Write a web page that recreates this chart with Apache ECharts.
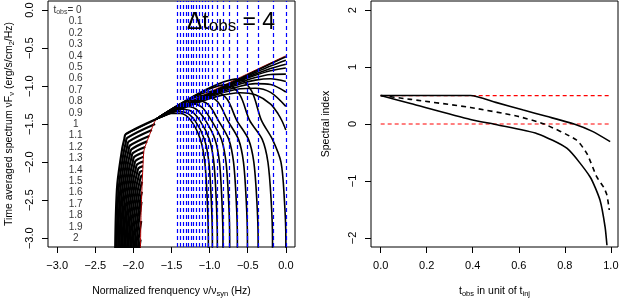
<!DOCTYPE html>
<html><head><meta charset="utf-8">
<script src="https://cdn.jsdelivr.net/npm/echarts@6.0.0/dist/echarts.min.js"></script>
<style>html,body{margin:0;padding:0;background:#fff}#c{width:619px;height:298px}</style>
</head><body><div id="c"></div>
<script>
// ---------- data ----------
const xTicksLeft = [-3, -2.5, -2, -1.5, -1, -0.5, 0];
const yTicksLeft = [-3, -2.5, -2, -1.5, -1, -0.5, 0];
const xTicksRight = [0, 0.2, 0.4, 0.6, 0.8, 1.0];
const yTicksRight = [-2, -1, 0, 1, 2];
const tObsLabels = ['0','0.1','0.2','0.3','0.4','0.5','0.6','0.7','0.8','0.9','1','1.1','1.2','1.3','1.4','1.5','1.6','1.7','1.8','1.9','2'];
// blue dashed cutoff frequencies (log10 nu/nu_syn)
const cutoffLines = [-1.417,-1.382,-1.346,-1.312,-1.276,-1.241,-1.207,-1.171,-1.136,-1.101,-1.062,-1.017,-0.964,-0.899,-0.825,-0.737,-0.636,-0.504,-0.364,-0.175,0];
// red envelope
const redEnvelope = [[-1.91,-3.3],[-1.90,-2.7],[-1.885,-2.28],[-1.872,-2.0],[-1.86,-1.84],[-1.78,-1.62],[-1.69,-1.428],[0,-0.6]];
// top spectrum (power law)
const topCurve = [[-2.1,-1.63],[-1.0,-1.092],[-0.5,-0.85],[-0.2,-0.705],[0,-0.613]];
// spectra ending at the right edge
const endCurves = [
 [[-1.7,-1.433],[-1.2,-1.191],[-0.9,-1.049],[-0.6,-0.909],[-0.4,-0.82],[-0.2,-0.735],[0,-0.66]],
 [[-1.7,-1.433],[-1.2,-1.195],[-0.9,-1.055],[-0.6,-0.92],[-0.4,-0.84],[-0.2,-0.768],[0,-0.713]],
 [[-1.7,-1.433],[-1.2,-1.198],[-0.9,-1.06],[-0.6,-0.932],[-0.4,-0.857],[-0.2,-0.797],[0,-0.76]],
 [[-1.7,-1.433],[-1.2,-1.202],[-0.9,-1.069],[-0.6,-0.951],[-0.4,-0.887],[-0.2,-0.846],[0,-0.841]],
 [[-1.7,-1.433],[-1.2,-1.207],[-0.9,-1.079],[-0.6,-0.972],[-0.4,-0.921],[-0.2,-0.902],[0,-0.938]],
 [[-1.7,-1.433],[-1.2,-1.214],[-0.9,-1.093],[-0.6,-1.0],[-0.4,-0.967],[-0.2,-0.979],[0,-1.076]],
 [[-1.7,-1.433],[-1.2,-1.222],[-0.9,-1.11],[-0.6,-1.035],[-0.4,-1.027],[-0.2,-1.082],[0,-1.266]],
 [[-1.7,-1.433],[-1.2,-1.234],[-0.9,-1.134],[-0.6,-1.086],[-0.4,-1.113],[-0.2,-1.235],[-0.1,-1.367],[-0.05,-1.458],[0,-1.576]]
];
// spectra with a cutoff inside the window
const cliffCurves = [
 [[-1.7,-1.433],[-0.62,-0.904],[-0.45,-1.063],[-0.32,-1.45],[-0.176,-1.7],[-0.064,-2.0],[-0.019,-2.5],[0,-3.0],[0,-3.5]],
 [[-1.7,-1.433],[-0.775,-0.98],[-0.605,-1.112],[-0.475,-1.45],[-0.31,-1.7],[-0.235,-2.0],[-0.193,-2.5],[-0.175,-3.0],[-0.175,-3.5]],
 [[-1.7,-1.433],[-0.944,-1.063],[-0.774,-1.166],[-0.644,-1.45],[-0.49,-1.7],[-0.42,-2.0],[-0.381,-2.5],[-0.364,-3.0],[-0.364,-3.5]],
 [[-1.7,-1.433],[-1.064,-1.121],[-0.894,-1.204],[-0.764,-1.45],[-0.621,-1.7],[-0.556,-2.0],[-0.52,-2.5],[-0.504,-3.0],[-0.504,-3.5]],
 [[-1.7,-1.433],[-1.186,-1.181],[-1.016,-1.243],[-0.886,-1.45],[-0.749,-1.7],[-0.686,-2.0],[-0.651,-2.5],[-0.636,-3.0],[-0.636,-3.5]],
 [[-1.7,-1.433],[-1.277,-1.226],[-1.107,-1.272],[-0.977,-1.45],[-0.845,-1.7],[-0.785,-2.0],[-0.751,-2.5],[-0.737,-3.0],[-0.737,-3.5]],
 [[-1.7,-1.433],[-1.355,-1.264],[-1.185,-1.297],[-1.055,-1.45],[-0.929,-1.7],[-0.871,-2.0],[-0.839,-2.5],[-0.825,-3.0],[-0.825,-3.5]],
 [[-1.7,-1.433],[-1.429,-1.30],[-1.259,-1.321],[-1.129,-1.45],[-1.003,-1.7],[-0.945,-2.0],[-0.913,-2.5],[-0.899,-3.0],[-0.899,-3.5]],
 [[-1.7,-1.433],[-1.494,-1.332],[-1.324,-1.342],[-1.194,-1.45],[-1.068,-1.7],[-1.01,-2.0],[-0.978,-2.5],[-0.964,-3.0],[-0.964,-3.5]],
 [[-1.7,-1.433],[-1.547,-1.358],[-1.377,-1.36],[-1.247,-1.45],[-1.121,-1.7],[-1.063,-2.0],[-1.031,-2.5],[-1.017,-3.0],[-1.017,-3.5]]
];
// dense low-frequency family (the dark band)
const blobCurves = [
 [[-2.24,-3.25],[-2.23,-2.70],[-2.21,-2.28],[-2.15,-1.84],[-2.12,-1.70],[-2.10,-1.63],[-1.69,-1.428]],
 [[-2.2215,-3.30],[-2.2115,-2.75],[-2.1915,-2.33],[-2.1315,-1.89],[-2.1015,-1.75],[-2.0815,-1.68],[-1.715,-1.497]],
 [[-2.203,-3.35],[-2.193,-2.80],[-2.173,-2.38],[-2.113,-1.94],[-2.083,-1.80],[-2.063,-1.73],[-1.757,-1.577]],
 [[-2.1845,-3.40],[-2.1745,-2.85],[-2.1545,-2.43],[-2.0945,-1.99],[-2.0645,-1.85],[-2.0445,-1.78],[-1.792,-1.654]],
 [[-2.166,-3.45],[-2.156,-2.90],[-2.136,-2.48],[-2.076,-2.04],[-2.046,-1.90],[-2.026,-1.83],[-1.819,-1.726]],
 [[-2.1475,-3.50],[-2.1375,-2.95],[-2.1175,-2.53],[-2.0575,-2.09],[-2.0275,-1.95],[-2.0075,-1.88],[-1.845,-1.799]],
 [[-2.129,-3.55],[-2.119,-3.00],[-2.099,-2.58],[-2.039,-2.14],[-2.009,-2.00],[-1.989,-1.93],[-1.862,-1.867]],
 [[-2.1105,-3.60],[-2.1005,-3.05],[-2.0805,-2.63],[-2.0205,-2.19],[-1.9905,-2.05],[-1.9705,-1.98],[-1.867,-1.928]],
 [[-2.092,-3.65],[-2.082,-3.10],[-2.062,-2.68],[-2.002,-2.24],[-1.972,-2.10],[-1.952,-2.03],[-1.871,-1.99]],
 [[-2.0735,-3.70],[-2.0635,-3.15],[-2.0435,-2.73],[-1.9835,-2.29],[-1.9535,-2.15],[-1.9335,-2.08],[-1.874,-2.051]],
 [[-2.055,-3.75],[-2.045,-3.20],[-2.025,-2.78],[-1.965,-2.34],[-1.935,-2.20],[-1.915,-2.13],[-1.877,-2.112]],
 [[-2.0365,-3.80],[-2.0265,-3.25],[-2.0065,-2.83],[-1.9465,-2.39],[-1.9165,-2.25],[-1.8965,-2.18],[-1.880,-2.172]],
 [[-2.018,-3.85],[-2.008,-3.30],[-1.988,-2.88],[-1.928,-2.44],[-1.898,-2.30],[-1.885,-2.255]],
 [[-1.9995,-3.90],[-1.9895,-3.35],[-1.9695,-2.93],[-1.9095,-2.49],[-1.888,-2.389]],
 [[-1.981,-3.95],[-1.971,-3.40],[-1.951,-2.98],[-1.8935,-2.52]],
 [[-1.962,-4.0],[-1.9525,-3.45],[-1.9325,-3.03],[-1.897,-2.773]],
 [[-1.943,-4.05],[-1.934,-3.50],[-1.914,-3.08],[-1.905,-3.017]]
];
// right panel: spectral index vs t_obs / t_inj
const idxUpper = [[0,0.5],[0.39,0.5],[0.5,0.38],[0.62,0.245],[0.72,0.135],[0.84,0.0],[0.92,-0.13],[0.997,-0.31]];
const idxMean  = [[0,0.5],[0.13,0.433],[0.39,0.29],[0.59,0.14],[0.71,0.0],[0.85,-0.28],[0.896,-0.52],[0.939,-0.93],[0.97,-1.12],[0.983,-1.25],[0.993,-1.51]];
const idxLower = [[0,0.5],[0.13,0.36],[0.39,0.08],[0.5,-0.01],[0.68,-0.17],[0.81,-0.43],[0.91,-0.93],[0.953,-1.34],[0.975,-1.81],[0.983,-2.13]];
const refLevels = [0.5, 0];
const refSpan = [0, 1];

// ---------- chart ----------
const FONT = 'Liberation Sans, Arial, Helvetica, sans-serif';
const minus = v => (v < 0 ? '\u2212' : '') + Math.abs(v);
const fmt1 = v => (v < 0 ? '\u2212' : '') + Math.abs(v).toFixed(1);
const subRich = {sub: {fontSize: 7.5, lineHeight: 8, verticalAlign: 'bottom', fontFamily: FONT, color: '#000'}};
const nameStyle = {fontSize: 10.5, lineHeight: 13, color: '#000', fontFamily: FONT, rich: subRich};
const lblStyle = {fontSize: 11, color: '#000', fontFamily: FONT};

function axisBase(extra) {
  return Object.assign({
    type: 'value', axisLine: {show: false, onZero: false}, splitLine: {show: false},
    nameLocation: 'middle', nameTextStyle: nameStyle
  }, extra);
}

const series = [];
const L0 = {xAxisIndex: 0, yAxisIndex: 0};
blobCurves.forEach(c => series.push(Object.assign({type: 'line', data: c, showSymbol: false, smooth: 0.3,
  lineStyle: {color: '#000', width: 2.2}, z: 2, silent: true}, L0)));
series.push(Object.assign({type: 'line', data: redEnvelope, showSymbol: false, smooth: 0.2,
  lineStyle: {color: '#b00000', width: 1}, z: 3, silent: true,
  markLine: {silent: true, symbol: 'none', label: {show: false}, animation: false,
    lineStyle: {color: '#0000ff', width: 1.2, type: [4, 3]},
    data: cutoffLines.map(v => ({xAxis: v})), z: 6}}, L0));
[topCurve].concat(endCurves, cliffCurves).forEach(c => series.push(Object.assign({type: 'line', data: c,
  showSymbol: false, smooth: 0.3, lineStyle: {color: '#000', width: 1.6}, z: 4, silent: true}, L0)));
// t_obs labels
series.push(Object.assign({type: 'scatter', symbolSize: 0, silent: true, z: 7,
  data: tObsLabels.map((s, i) => ({value: [-2.757, -0.15 * i], name: s,
    label: i === 0 ? {formatter: 't{sub|obs}= 0', align: 'right', offset: [6, 0]} : {}})),
  label: {show: true, position: 'inside', formatter: '{b}', color: '#000', fontSize: 10, fontFamily: FONT,
    rich: {sub: {fontSize: 7, verticalAlign: 'bottom', lineHeight: 7, fontFamily: FONT, color: '#000'}}}
}, L0));

const R1 = {xAxisIndex: 1, yAxisIndex: 1};
refLevels.forEach(v => series.push(Object.assign({type: 'line', data: refSpan.map(x => [x, v]), showSymbol: false,
  lineStyle: {color: '#ff0000', width: 1.2, type: [4, 3]}, silent: true}, R1)));
series.push(Object.assign({type: 'line', data: idxUpper, showSymbol: false, smooth: 0.2, lineStyle: {color: '#000', width: 1.6}}, R1));
series.push(Object.assign({type: 'line', data: idxMean, showSymbol: false, smooth: 0.2, lineStyle: {color: '#000', width: 1.6, type: [5, 4]}}, R1));
series.push(Object.assign({type: 'line', data: idxLower, showSymbol: false, smooth: 0.2, lineStyle: {color: '#000', width: 1.6}}, R1));

const tick = vals => ({show: true, inside: false, customValues: vals, length: 6, lineStyle: {color: '#000', width: 1}});
const gridBase = {top: 1, width: 247, height: 246, show: true, borderColor: '#000', borderWidth: 1,
  backgroundColor: 'transparent', containLabel: false, outerBoundsMode: 'none'};
const option = {
  animation: false,
  backgroundColor: '#fff',
  textStyle: {fontFamily: FONT},
  grid: [Object.assign({left: 48}, gridBase), Object.assign({left: 371}, gridBase)],
  xAxis: [
    axisBase({gridIndex: 0, position: 'bottom', min: -3.12, max: 0.12, axisTick: tick(xTicksLeft),
      axisLabel: Object.assign({customValues: xTicksLeft, formatter: fmt1, margin: 13}, lblStyle),
      name: 'Normalized frenquency \u03bd/\u03bd{sub|syn} (Hz)', nameGap: 38}),
    axisBase({gridIndex: 1, position: 'bottom', min: -0.042, max: 1.031, axisTick: tick(xTicksRight),
      axisLabel: Object.assign({customValues: xTicksRight, formatter: v => v.toFixed(1), margin: 13}, lblStyle),
      name: 't{sub|obs} in unit of t{sub|inj}', nameGap: 38})
  ],
  yAxis: [
    axisBase({gridIndex: 0, position: 'left', min: -3.115, max: 0.12, axisTick: tick(yTicksLeft),
      axisLabel: Object.assign({customValues: yTicksLeft, formatter: fmt1, margin: 13, rotate: 90}, lblStyle),
      name: 'Time averaged spectrum \u03bdF{sub|\u03bd} (erg/s/cm{sub|2}/Hz)', nameGap: 32, nameRotate: 90}),
    axisBase({gridIndex: 1, position: 'left', min: -2.16, max: 2.16, axisTick: tick(yTicksRight),
      axisLabel: Object.assign({customValues: yTicksRight, formatter: minus, margin: 13, rotate: 90}, lblStyle),
      name: 'Spectral index', nameGap: 38, nameRotate: 90})
  ],
  graphic: [{type: 'text', left: 187, top: 11, z: 100, silent: true,
    style: {text: '{m|\u0394t}{s|obs}{m| = 4}', fill: '#000',
      rich: {m: {fontSize: 23, lineHeight: 25, fontFamily: FONT, color: '#000'},
             s: {fontSize: 17, lineHeight: 17, verticalAlign: 'bottom', fontFamily: FONT, color: '#000'}}}}],
  series: series
};
echarts.init(document.getElementById('c'), null, {renderer: 'canvas'}).setOption(option);
</script></body></html>
